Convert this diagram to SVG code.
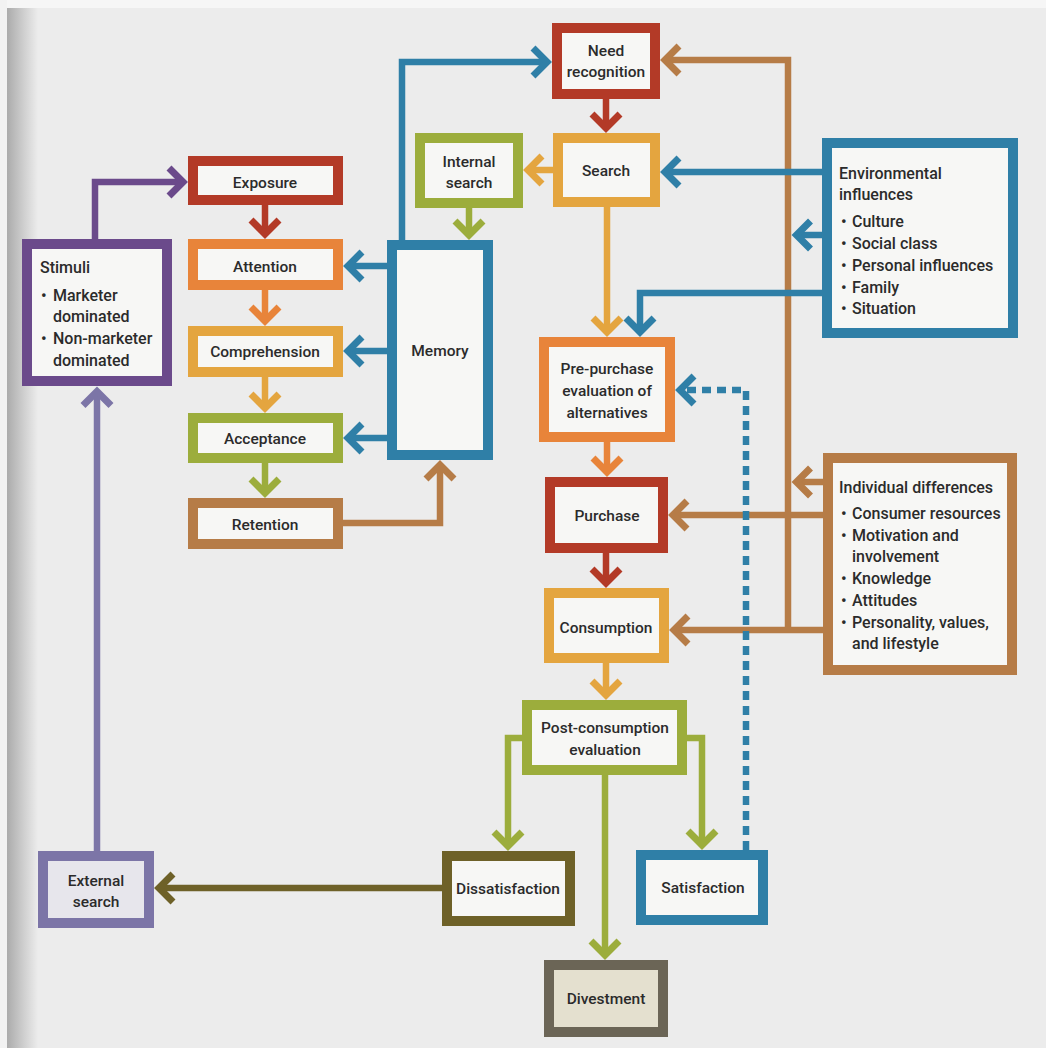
<svg xmlns="http://www.w3.org/2000/svg" width="1046" height="1048" viewBox="0 0 1046 1048">
  <defs>
    <linearGradient id="pageEdge" x1="0" y1="0" x2="1" y2="0">
      <stop offset="0" stop-color="#a9a9a9"/>
      <stop offset="0.6" stop-color="#d2d2d2"/>
      <stop offset="1" stop-color="#ececec"/>
    </linearGradient>
    <marker id="ah-red" markerUnits="userSpaceOnUse" overflow="visible" orient="auto" refX="0" refY="0" markerWidth="1" markerHeight="1"><path class="chev" d="M-14,-14 L0,0 L-14,14" stroke="#b33a27"/></marker>
    <marker id="ah-orange" markerUnits="userSpaceOnUse" overflow="visible" orient="auto" refX="0" refY="0" markerWidth="1" markerHeight="1"><path class="chev" d="M-14,-14 L0,0 L-14,14" stroke="#e8843a"/></marker>
    <marker id="ah-yellow" markerUnits="userSpaceOnUse" overflow="visible" orient="auto" refX="0" refY="0" markerWidth="1" markerHeight="1"><path class="chev" d="M-14,-14 L0,0 L-14,14" stroke="#e4a53f"/></marker>
    <marker id="ah-green" markerUnits="userSpaceOnUse" overflow="visible" orient="auto" refX="0" refY="0" markerWidth="1" markerHeight="1"><path class="chev" d="M-14,-14 L0,0 L-14,14" stroke="#9cad3c"/></marker>
    <marker id="ah-brown" markerUnits="userSpaceOnUse" overflow="visible" orient="auto" refX="0" refY="0" markerWidth="1" markerHeight="1"><path class="chev" d="M-14,-14 L0,0 L-14,14" stroke="#b67c47"/></marker>
    <marker id="ah-blue" markerUnits="userSpaceOnUse" overflow="visible" orient="auto" refX="0" refY="0" markerWidth="1" markerHeight="1"><path class="chev" d="M-14,-14 L0,0 L-14,14" stroke="#2f7fa7"/></marker>
    <marker id="ah-purple" markerUnits="userSpaceOnUse" overflow="visible" orient="auto" refX="0" refY="0" markerWidth="1" markerHeight="1"><path class="chev" d="M-14,-14 L0,0 L-14,14" stroke="#6b4a8b"/></marker>
    <marker id="ah-lavender" markerUnits="userSpaceOnUse" overflow="visible" orient="auto" refX="0" refY="0" markerWidth="1" markerHeight="1"><path class="chev" d="M-14,-14 L0,0 L-14,14" stroke="#7c75a7"/></marker>
    <marker id="ah-olive" markerUnits="userSpaceOnUse" overflow="visible" orient="auto" refX="0" refY="0" markerWidth="1" markerHeight="1"><path class="chev" d="M-14,-14 L0,0 L-14,14" stroke="#6e6128"/></marker>
  </defs>
  <style>
    .chev { fill: none; stroke-width: 7; stroke-linejoin: miter; stroke-linecap: butt; stroke-dasharray: none; }
    .box { fill: #f7f7f5; stroke-width: 10; }
    .ln { fill: none; stroke-width: 6.5; stroke-linejoin: miter; }
    .lbl { font-family: Roboto, "Liberation Sans", sans-serif; font-weight: 500; font-size: 15.5px; fill: #2b2b2b; text-anchor: middle; }
    .lst { font-family: Roboto, "Liberation Sans", sans-serif; font-weight: 500; font-size: 16px; fill: #2b2b2b; }
    .red { stroke: #b33a27; } .orange { stroke: #e8843a; } .yellow { stroke: #e4a53f; }
    .green { stroke: #9cad3c; } .brown { stroke: #b67c47; } .blue { stroke: #2f7fa7; }
    .purple { stroke: #6b4a8b; } .lavender { stroke: #7c75a7; } .olive { stroke: #6e6128; }
    .grey { stroke: #6b6556; }
  </style>

  <!-- page -->
  <rect x="0" y="0" width="1046" height="1048" fill="#ececec"/>
  <rect x="6" y="8" width="32" height="1040" fill="url(#pageEdge)"/>
  <rect x="0" y="0" width="1046" height="8" fill="#f6f6f6"/>
  <rect x="0" y="0" width="7" height="1048" fill="#f2f2f2"/>

  <!-- connectors -->
  <g id="connectors">
    <!-- left column -->
    <path class="ln purple" d="M95,239 V182 H183" marker-end="url(#ah-purple)"/>
    <path class="ln lavender" d="M97,851 V391.5" marker-end="url(#ah-lavender)"/>
    <path class="ln red" d="M265,205 V234" marker-end="url(#ah-red)"/>
    <path class="ln orange" d="M265,290 V321" marker-end="url(#ah-orange)"/>
    <path class="ln yellow" d="M265,377 V408" marker-end="url(#ah-yellow)"/>
    <path class="ln green" d="M265,463 V493" marker-end="url(#ah-green)"/>
    <path class="ln brown" d="M343,523 H440 V465" marker-end="url(#ah-brown)"/>
    <path class="ln blue" d="M387,266 H348" marker-end="url(#ah-blue)"/>
    <path class="ln blue" d="M387,351 H348" marker-end="url(#ah-blue)"/>
    <path class="ln blue" d="M387,438 H348" marker-end="url(#ah-blue)"/>
    <path class="ln blue" d="M402,240 V62 H547" marker-end="url(#ah-blue)"/>
    <path class="ln green" d="M469,208 V235" marker-end="url(#ah-green)"/>
    <!-- main column -->
    <path class="ln red" d="M606,99 V128" marker-end="url(#ah-red)"/>
    <path class="ln yellow" d="M553,170 H528" marker-end="url(#ah-yellow)"/>
    <path class="ln yellow" d="M607,207 V332" marker-end="url(#ah-yellow)"/>
    <path class="ln orange" d="M607,442 V472" marker-end="url(#ah-orange)"/>
    <path class="ln red" d="M606,553 V583" marker-end="url(#ah-red)"/>
    <path class="ln yellow" d="M606,663 V695" marker-end="url(#ah-yellow)"/>
    <path class="ln green" d="M605,775 V955" marker-end="url(#ah-green)"/>
    <path class="ln green" d="M522,738 H508 V846" marker-end="url(#ah-green)"/>
    <path class="ln green" d="M687,738 H702 V845" marker-end="url(#ah-green)"/>
    <path class="ln olive" d="M442,888 H159" marker-end="url(#ah-olive)"/>
    <!-- individual differences -->
    <path class="ln brown" d="M788,630 V60 H665" marker-end="url(#ah-brown)"/>
    <path class="ln brown" d="M823,482 H796.5" marker-end="url(#ah-brown)"/>
    <path class="ln brown" d="M823,515 H673" marker-end="url(#ah-brown)"/>
    <path class="ln brown" d="M823,630 H674" marker-end="url(#ah-brown)"/>
    <!-- environmental influences -->
    <path class="ln blue" d="M822,172 H665" marker-end="url(#ah-blue)"/>
    <path class="ln blue" d="M822,235 H796.5" marker-end="url(#ah-blue)"/>
    <path class="ln blue" d="M822,293 H640 V332" marker-end="url(#ah-blue)"/>
    <!-- satisfaction feedback -->
    <path class="ln blue" d="M746,850 V390 H680" stroke-width="6" stroke-dasharray="9 6" marker-end="url(#ah-blue)"/>
  </g>

  <!-- nodes -->
  <g id="need-recognition">
    <rect class="box red" x="557" y="28" width="98" height="66"/>
    <text class="lbl" x="606" y="56">Need</text>
    <text class="lbl" x="606" y="77">recognition</text>
  </g>
  <g id="search">
    <rect class="box yellow" x="558" y="138" width="97" height="64"/>
    <text class="lbl" x="606" y="176">Search</text>
  </g>
  <g id="internal-search">
    <rect class="box green" x="420" y="138" width="98" height="65"/>
    <text class="lbl" x="469" y="167">Internal</text>
    <text class="lbl" x="469" y="188">search</text>
  </g>
  <g id="memory">
    <rect class="box blue" x="392" y="245" width="96" height="210"/>
    <text class="lbl" x="440" y="356">Memory</text>
  </g>
  <g id="exposure">
    <rect class="box red" x="193" y="161" width="145" height="39"/>
    <text class="lbl" x="265" y="188">Exposure</text>
  </g>
  <g id="attention">
    <rect class="box orange" x="193" y="244" width="145" height="41"/>
    <text class="lbl" x="265" y="272">Attention</text>
  </g>
  <g id="comprehension">
    <rect class="box yellow" x="193" y="331" width="145" height="41"/>
    <text class="lbl" x="265" y="357">Comprehension</text>
  </g>
  <g id="acceptance">
    <rect class="box green" x="193" y="418" width="145" height="40"/>
    <text class="lbl" x="265" y="444">Acceptance</text>
  </g>
  <g id="retention">
    <rect class="box brown" x="193" y="503" width="145" height="41"/>
    <text class="lbl" x="265" y="530">Retention</text>
  </g>
  <g id="stimuli">
    <rect class="box purple" x="27" y="244" width="140" height="137" stroke-width="9"/>
    <text class="lst" x="40" y="273">Stimuli</text>
    <text class="lst" x="41" y="301">•</text><text class="lst" x="53" y="301">Marketer</text>
    <text class="lst" x="53" y="322">dominated</text>
    <text class="lst" x="41" y="344">•</text><text class="lst" x="53" y="344">Non-marketer</text>
    <text class="lst" x="53" y="366">dominated</text>
  </g>
  <g id="environmental-influences">
    <rect class="box blue" x="827" y="143" width="186" height="190"/>
    <text class="lst" x="839" y="179">Environmental</text>
    <text class="lst" x="839" y="200">influences</text>
    <text class="lst" x="841" y="227">•</text><text class="lst" x="852" y="227">Culture</text>
    <text class="lst" x="841" y="249">•</text><text class="lst" x="852" y="249">Social class</text>
    <text class="lst" x="841" y="271">•</text><text class="lst" x="852" y="271">Personal influences</text>
    <text class="lst" x="841" y="293">•</text><text class="lst" x="852" y="293">Family</text>
    <text class="lst" x="841" y="314">•</text><text class="lst" x="852" y="314">Situation</text>
  </g>
  <g id="pre-purchase-evaluation">
    <rect class="box orange" x="544" y="342" width="126" height="95"/>
    <text class="lbl" x="607" y="374">Pre-purchase</text>
    <text class="lbl" x="607" y="396">evaluation of</text>
    <text class="lbl" x="607" y="418">alternatives</text>
  </g>
  <g id="purchase">
    <rect class="box red" x="550" y="482" width="113" height="66"/>
    <text class="lbl" x="607" y="521">Purchase</text>
  </g>
  <g id="individual-differences">
    <rect class="box brown" x="828" y="458" width="184" height="212"/>
    <text class="lst" x="839" y="493">Individual differences</text>
    <text class="lst" x="841" y="519">•</text><text class="lst" x="852" y="519">Consumer resources</text>
    <text class="lst" x="841" y="541">•</text><text class="lst" x="852" y="541">Motivation and</text>
    <text class="lst" x="852" y="562">involvement</text>
    <text class="lst" x="841" y="584">•</text><text class="lst" x="852" y="584">Knowledge</text>
    <text class="lst" x="841" y="606">•</text><text class="lst" x="852" y="606">Attitudes</text>
    <text class="lst" x="841" y="628">•</text><text class="lst" x="852" y="628">Personality, values,</text>
    <text class="lst" x="852" y="649">and lifestyle</text>
  </g>
  <g id="consumption">
    <rect class="box yellow" x="549" y="593" width="115" height="65"/>
    <text class="lbl" x="606" y="633">Consumption</text>
  </g>
  <g id="post-consumption-evaluation">
    <rect class="box green" x="527" y="705" width="155" height="65"/>
    <text class="lbl" x="605" y="733">Post-consumption</text>
    <text class="lbl" x="605" y="755">evaluation</text>
  </g>
  <g id="dissatisfaction">
    <rect class="box olive" x="447" y="856" width="123" height="65"/>
    <text class="lbl" x="508" y="894">Dissatisfaction</text>
  </g>
  <g id="satisfaction">
    <rect class="box blue" x="641" y="855" width="122" height="65"/>
    <text class="lbl" x="703" y="893">Satisfaction</text>
  </g>
  <g id="divestment">
    <rect class="box grey" x="549" y="965" width="114" height="67" style="fill:#e4e0cf"/>
    <text class="lbl" x="606" y="1004">Divestment</text>
  </g>
  <g id="external-search">
    <rect class="box lavender" x="43" y="856" width="106" height="67" style="fill:#e7e6ec"/>
    <text class="lbl" x="96" y="886">External</text>
    <text class="lbl" x="96" y="907">search</text>
  </g>
</svg>
